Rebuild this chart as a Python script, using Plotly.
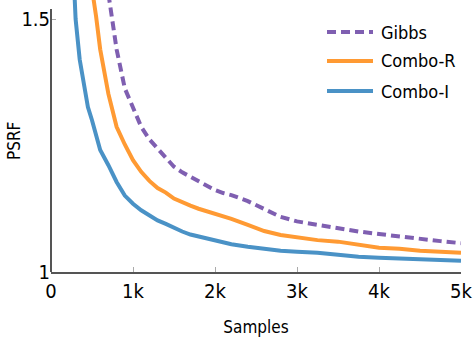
import plotly.graph_objects as go

# Number of samples drawn
samples = [250, 300, 350, 400, 450, 500, 550, 600, 700, 800, 900, 1000, 1100, 1200,
           1300, 1400, 1500, 1600, 1700, 1800, 1900, 2000, 2100, 2200, 2400, 2600,
           2800, 3000, 3250, 3500, 3750, 4000, 4250, 4500, 4750, 5000]

# PSRF per method (None where the curve is not yet started)
gibbs = [None, None, None, None, None, None, None, None, 1.55, 1.44, 1.363, 1.325,
         1.287, 1.262, 1.243, 1.225, 1.208, 1.197, 1.188, 1.178, 1.170, 1.162, 1.156,
         1.152, 1.140, 1.124, 1.109, 1.100, 1.093, 1.085, 1.080, 1.075, 1.070, 1.065,
         1.061, 1.057]
combo_r = [None, None, None, 1.72, 1.63, 1.56, 1.505, 1.44, 1.352, 1.287, 1.252, 1.221,
           1.198, 1.180, 1.166, 1.157, 1.145, 1.137, 1.131, 1.125, 1.120, 1.116, 1.110,
           1.105, 1.093, 1.081, 1.073, 1.068, 1.063, 1.060, 1.053, 1.048, 1.046, 1.042,
           1.040, 1.038]
combo_i = [1.68, 1.50, 1.42, 1.37, 1.326, 1.300, 1.268, 1.241, 1.211, 1.178, 1.151, 1.135,
           1.122, 1.112, 1.102, 1.095, 1.087, 1.080, 1.074, 1.070, 1.067, 1.064, 1.058,
           1.055, 1.050, 1.045, 1.042, 1.040, 1.038, 1.034, 1.030, 1.028, 1.027, 1.025,
           1.024, 1.022]

series_names = ["Gibbs", "Combo-R", "Combo-I"]
series_values = [gibbs, combo_r, combo_i]
series_colors = ["#7f5fb1", "#ff9a33", "#4a92c6"]
series_dash = ["9px,5px", "solid", "solid"]

x_tick_vals = [0, 1000, 2000, 3000, 4000, 5000]
x_tick_text = ["0", "1k", "2k", "3k", "4k", "5k"]
y_tick_vals = [1, 1.5]
y_tick_text = ["1", "1.5"]

FONT = "DejaVu Sans Condensed, DejaVu Sans, sans-serif"
INK = "#000000"

fig = go.Figure()
for name, vals, color, dash in zip(series_names, series_values, series_colors, series_dash):
    fig.add_trace(go.Scatter(x=samples, y=vals, name=name, mode="lines",
                             line=dict(color=color, width=4, dash=dash),
                             showlegend=False))

W, H = 474, 340
ML, MR, MT, MB = 51, 13, 0, 68
pw, ph = W - ML - MR, H - MT - MB


def px_x(p):
    return (p - ML) / pw


def px_y(p):
    return (H - MB - p) / ph


shapes = [
    # vertical axis line, stopping a little below the top of the frame
    dict(type="line", xref="paper", yref="paper", x0=0, x1=0, y0=0, y1=px_y(9),
         line=dict(color="#555555", width=2)),
]
annotations = [
    dict(text="PSRF", xref="paper", yref="paper", x=px_x(14), y=px_y(141),
         textangle=-90, showarrow=False, xanchor="center", yanchor="middle",
         font=dict(family=FONT, size=17, color=INK)),
]

# legend drawn as line segments with labels
legend_rows = [32, 61, 91]
for name, color, dash, row in zip(series_names, series_colors, series_dash, legend_rows):
    shapes.append(dict(type="line", xref="paper", yref="paper",
                       x0=px_x(327), x1=px_x(373), y0=px_y(row), y1=px_y(row),
                       line=dict(color=color, width=4, dash=dash)))
    annotations.append(dict(text=name, xref="paper", yref="paper", x=px_x(379), y=px_y(row),
                            xanchor="left", yanchor="middle", showarrow=False,
                            font=dict(family=FONT, size=18, color=INK)))

fig.update_layout(
    width=W, height=H,
    margin=dict(l=ML, r=MR, t=MT, b=MB),
    paper_bgcolor="white", plot_bgcolor="white",
    font=dict(family=FONT, size=19, color=INK),
    shapes=shapes, annotations=annotations,
    xaxis=dict(range=[0, 5000], tickvals=x_tick_vals, ticktext=x_tick_text,
               showgrid=False, zeroline=False, showline=True, linecolor="#555555",
               linewidth=2, ticks="inside", ticklen=5, tickcolor="#aaaaaa",
               tickfont=dict(family=FONT, size=20, color=INK),
               title=dict(text="Samples", standoff=19,
                          font=dict(family=FONT, size=17, color=INK))),
    yaxis=dict(range=[1, 1 + (H - MB) / 506], tickvals=y_tick_vals, ticktext=y_tick_text,
               showgrid=False, zeroline=False, showline=False,
               ticks="inside", ticklen=5, tickcolor="#aaaaaa",
               tickfont=dict(family=FONT, size=20, color=INK)),
)

fig.write_html("out.html")
